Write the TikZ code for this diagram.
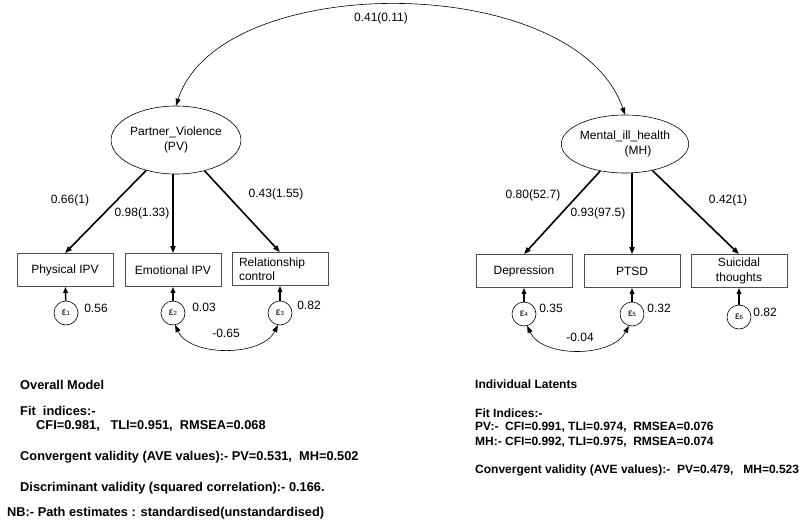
\documentclass[tikz,border=0pt]{standalone}
\usepackage{fontspec}
\setmainfont{Liberation Sans}
\usetikzlibrary{arrows.meta,shapes.geometric}
\begin{document}
\begin{tikzpicture}[x=1pt,y=-1pt,
  lat/.style={draw, ellipse, line width=0.6pt, minimum width=#1, align=center,
    font=\fontsize{12}{15}\selectfont, inner sep=0pt},
  obs/.style={draw=black!70, line width=0.7pt, rectangle, minimum width=96pt, minimum height=33pt,
    align=center, font=\fontsize{12}{15}\selectfont, inner sep=2pt},
  err/.style={draw, circle, line width=0.6pt, minimum size=24pt, inner sep=0pt},
  ld/.style={line width=1.6pt, -{Triangle[length=7pt,width=5pt]}},
  ea/.style={line width=1.6pt, -{Triangle[length=6pt,width=4.5pt]}},
  cv/.style={line width=0.6pt, {Triangle[length=7pt,width=5pt]}-{Triangle[length=7pt,width=5pt]}},
  lbl/.style={font=\fontsize{12}{14}\selectfont, inner sep=0pt},
  txt/.style={anchor=base west, inner sep=0pt, font=\bfseries\fontsize{12.8}{15}\selectfont},
  txtr/.style={anchor=base west, inner sep=0pt, font=\bfseries\fontsize{12}{14}\selectfont}
]
\useasboundingbox (0,0) rectangle (800,520);
\fill[white] (0,0) rectangle (800,520);

\newcommand{\eps}[1]{{\fontsize{10.5}{10}\selectfont ε}{\fontsize{6}{6}\selectfont #1}}

% latents
\node[lat=122pt, minimum height=68pt] (pv) at (176,140) {Partner\_Violence\\(PV)};
\node[lat=112pt, minimum height=58pt] (mh) at (625,144) {Mental\_ill\_health\\\hspace*{26pt}(MH)};

% observed
\node[obs] (phys) at (65,270) {Physical IPV};
\node[obs] (emo) at (173,270) {Emotional IPV};
\node[obs, align=left, text width=82pt, font=\fontsize{12}{14.5}\selectfont] (rel) at (280,269) {Relationship\\control};
\node[obs] (dep) at (524,271) {Depression};
\node[obs] (ptsd) at (632,271) {PTSD};
\node[obs, font=\fontsize{12}{15}\selectfont] (sui) at (739,271) {Suicidal\\thoughts};

% errors
\node[err] (e1) at (66,313) {\eps{1}};
\node[err] (e2) at (173,313) {\eps{2}};
\node[err] (e3) at (280,313) {\eps{3}};
\node[err] (e4) at (524,314) {\eps{4}};
\node[err] (e5) at (632,314) {\eps{5}};
\node[err] (e6) at (739,317) {\eps{6}};

% loadings
\draw[ld] (pv) -- (phys.north);
\draw[ld] (emo.north |- pv.south) -- (emo.north);
\draw[ld] (pv) -- (rel.north);
\draw[ld] (mh) -- (dep.north);
\draw[ld] (ptsd.north |- mh.south) -- (ptsd.north);
\draw[ld] (mh) -- (sui.north);

% error arrows
\foreach \e/\o in {e1/phys,e2/emo,e3/rel,e4/dep,e5/ptsd,e6/sui}
  \draw[ea] (\e) -- (\o);

% loading labels
\node[lbl] (l1) at (70,200) {0.66(1)};
\node[lbl] (l2) at (142,213) {0.98(1.33)};
\node[lbl] (l3) at (276,194) {0.43(1.55)};
\node[lbl] (l4) at (533,195) {0.80(52.7)};
\node[lbl] (l5) at (598,213) {0.93(97.5)};
\node[lbl] (l6) at (728,200) {0.42(1)};

% error variances
\node[lbl] (v1) at (96,308) {0.56};
\node[lbl] (v2) at (204,307) {0.03};
\node[lbl] (v3) at (309,305) {0.82};
\node[lbl] (v4) at (551,308) {0.35};
\node[lbl] (v5) at (659,308) {0.32};
\node[lbl] (v6) at (765,312) {0.82};

% covariances
\draw[cv] (pv.north) .. controls (220,-30) and (575,-30) .. (mh.north);
\node[lbl] (c0) at (381,18) {0.41(0.11)};
\draw[cv] (e2.-80) .. controls (190,357) and (262,357) .. (e3.-100);
\node[lbl] (c1) at (226,333) {-0.65};
\draw[cv] (e4.-75) .. controls (542,358) and (612,358) .. (e5.-105);
\node[lbl] (c2) at (580,337) {-0.04};

% bottom texts
\node[txt] (t1) at (20,389) {Overall Model};
\node[txt] (t2) at (20,415) {Fit\ \ indices:-};
\node[txt] (t3) at (36,429) {CFI=0.981,\ \ \ TLI=0.951,\ \ RMSEA=0.068};
\node[txt] (t4) at (20,460) {Convergent validity (AVE values):- PV=0.531,\ \ MH=0.502};
\node[txt] (t5) at (20,491) {Discriminant validity (squared correlation):- 0.166.};
\node[txt] (t6) at (7,516) {NB:- Path estimates : standardised(unstandardised)};

\node[txtr] (r1) at (475,388) {Individual Latents};
\node[txtr] (r2) at (475,417) {Fit Indices:-};
\node[txtr] (r3) at (475,430) {PV:-\ \ CFI=0.991, TLI=0.974,\ \ RMSEA=0.076};
\node[txtr] (r4) at (475,445) {MH:- CFI=0.992, TLI=0.975,\ \ RMSEA=0.074};
\node[txtr] (r5) at (475,473) {Convergent validity (AVE values):-\ \ PV=0.479,\ \ \ MH=0.523};
\end{tikzpicture}
\end{document}
